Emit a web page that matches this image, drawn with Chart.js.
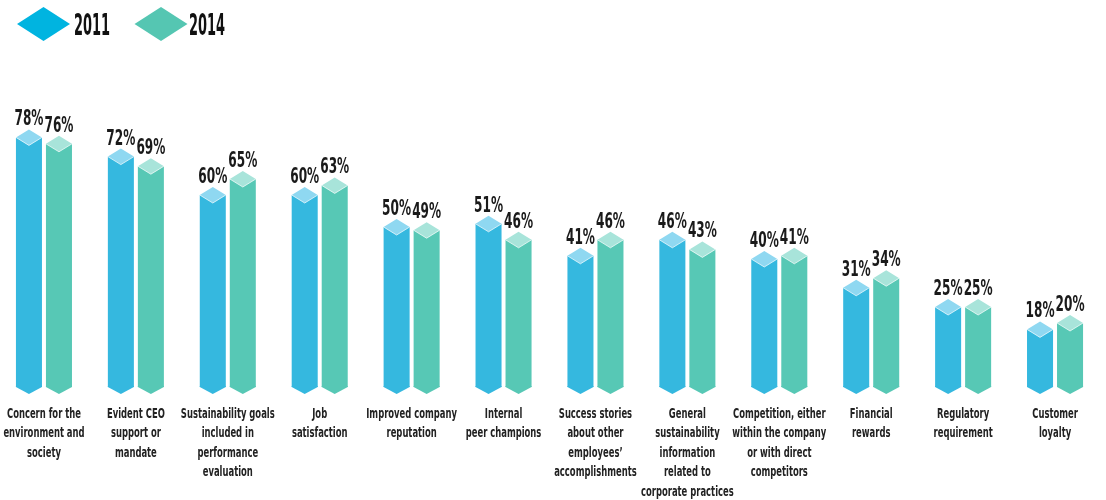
<!DOCTYPE html>
<html>
<head>
    <title>Drivers of employee engagement</title>
    <style>
        body {
            margin: 0;
            padding: 0;
            background: #ffffff;
            overflow: hidden;
        }
        #wrap {
            position: relative;
            width: 1106px;
            height: 500px;
        }
        #engagementChart {
            position: absolute;
            left: -2px;
            top: 0;
        }
    </style>
    <script src="https://cdn.jsdelivr.net/npm/chart.js"></script>
</head>
<body>
    <div id="wrap">
        <canvas id="engagementChart" width="1103" height="500"></canvas>
    </div>

    <script>
        const categories = [
            ['Concern for the', 'environment and', 'society'],
            ['Evident CEO', 'support or', 'mandate'],
            ['Sustainability goals', 'included in', 'performance', 'evaluation'],
            ['Job', 'satisfaction'],
            ['Improved company', 'reputation'],
            ['Internal', 'peer champions'],
            ['Success stories', 'about other', 'employees\u2019', 'accomplishments'],
            ['General', 'sustainability', 'information', 'related to', 'corporate practices'],
            ['Competition, either', 'within the company', 'or with direct', 'competitors'],
            ['Financial', 'rewards'],
            ['Regulatory', 'requirement'],
            ['Customer', 'loyalty']
        ];
        const years = ['2011', '2014'];
        const values2011 = [78, 72, 60, 60, 50, 51, 41, 46, 40, 31, 25, 18];
        const values2014 = [76, 69, 65, 63, 49, 46, 46, 43, 41, 34, 25, 20];

        const bodyColors = ['#35b8df', '#57c8b5'];
        const capColors = ['#8fd8f1', '#a8e4da'];
        const legendColors = ['#00b4e0', '#55c6b2'];

        const narrow = "'Liberation Sans Narrow', 'DejaVu Sans Condensed', sans-serif";
        const valueFont = 'bold 21px ' + narrow;
        const tickFont = 'bold 14px ' + narrow;
        const legendFont = 'bold 30px ' + narrow;

        // the labels use a very condensed face, so squeeze them horizontally
        function squeezedText(ctx, text, x, y, sx) {
            ctx.save();
            ctx.translate(x, y);
            ctx.scale(sx, 1);
            ctx.fillText(text, 0, 0);
            ctx.restore();
        }

        function squeezeFor(ctx, font, sample, width) {
            ctx.save();
            ctx.font = font;
            const w = ctx.measureText(sample).width;
            ctx.restore();
            return Math.min(1, width / w);
        }

        // prism bars: diamond cap on top, pointed foot below the base
        const prismBars = {
            id: 'prismBars',
            afterDatasetsDraw(chart) {
                const ctx = chart.ctx;
                const sx = squeezeFor(ctx, valueFont, '78%', 29);
                chart.data.datasets.forEach((ds, di) => {
                    const meta = chart.getDatasetMeta(di);
                    meta.data.forEach((bar, i) => {
                        const half = bar.width / 2;
                        const l = bar.x - half;
                        const r = bar.x + half;
                        const y = bar.y;
                        const base = bar.base;

                        ctx.save();
                        // foot
                        ctx.fillStyle = bodyColors[di];
                        ctx.beginPath();
                        ctx.moveTo(l, base - 1);
                        ctx.lineTo(r, base - 1);
                        ctx.lineTo(r, base);
                        ctx.lineTo(bar.x, base + 7);
                        ctx.lineTo(l, base);
                        ctx.closePath();
                        ctx.fill();

                        // cap
                        ctx.fillStyle = capColors[di];
                        ctx.beginPath();
                        ctx.moveTo(l, y);
                        ctx.lineTo(bar.x, y - 8);
                        ctx.lineTo(r, y);
                        ctx.lineTo(bar.x, y + 8);
                        ctx.closePath();
                        ctx.fill();

                        ctx.strokeStyle = 'rgba(255,255,255,0.7)';
                        ctx.lineWidth = 1;
                        ctx.beginPath();
                        ctx.moveTo(l, y);
                        ctx.lineTo(bar.x, y + 8);
                        ctx.lineTo(r, y);
                        ctx.stroke();

                        // value label
                        ctx.fillStyle = '#1a1a1a';
                        ctx.font = valueFont;
                        ctx.textAlign = 'center';
                        ctx.textBaseline = 'alphabetic';
                        squeezedText(ctx, ds.data[i] + '%', bar.x, y - 12, sx);
                        ctx.restore();
                    });
                });
            },
            afterDraw(chart) {
                const ctx = chart.ctx;
                const xScale = chart.scales.x;
                const tsx = squeezeFor(ctx, tickFont, 'Concern for the', 74);
                ctx.save();
                ctx.fillStyle = '#222222';
                ctx.textAlign = 'center';
                ctx.textBaseline = 'middle';
                ctx.font = tickFont;
                categories.forEach((lines, i) => {
                    const cx = xScale.getPixelForValue(i);
                    lines.forEach((line, k) => {
                        squeezedText(ctx, line, cx, 414 + k * 19.5, tsx);
                    });
                });

                // legend
                const lsx = squeezeFor(ctx, legendFont, '2011', 36);
                const items = [
                    { cx: 45.5, tx: 76 },
                    { cx: 163, tx: 191 }
                ];
                ctx.font = legendFont;
                ctx.textAlign = 'left';
                ctx.textBaseline = 'alphabetic';
                items.forEach((it, k) => {
                    ctx.fillStyle = legendColors[k];
                    ctx.beginPath();
                    ctx.moveTo(it.cx - 26.5, 24);
                    ctx.lineTo(it.cx, 7);
                    ctx.lineTo(it.cx + 26.5, 24);
                    ctx.lineTo(it.cx, 41);
                    ctx.closePath();
                    ctx.fill();
                    ctx.fillStyle = '#111111';
                    squeezedText(ctx, years[k], it.tx, 35, lsx);
                });
                ctx.restore();
            }
        };

        const ctx = document.getElementById('engagementChart').getContext('2d');
        new Chart(ctx, {
            type: 'bar',
            data: {
                labels: categories.map(c => c.join(' ')),
                datasets: [
                    {
                        label: years[0],
                        data: values2011,
                        backgroundColor: bodyColors[0],
                        borderWidth: 0
                    },
                    {
                        label: years[1],
                        data: values2014,
                        backgroundColor: bodyColors[1],
                        borderWidth: 0
                    }
                ]
            },
            options: {
                responsive: false,
                animation: false,
                events: [],
                categoryPercentage: 0.653,
                barPercentage: 0.867,
                layout: {
                    padding: { top: 67, bottom: 113, left: 0, right: 0 }
                },
                plugins: {
                    legend: { display: false },
                    tooltip: { enabled: false }
                },
                scales: {
                    x: { display: false },
                    y: { display: false, min: 0, max: 100 }
                }
            },
            plugins: [prismBars]
        });
    </script>
</body>
</html>
